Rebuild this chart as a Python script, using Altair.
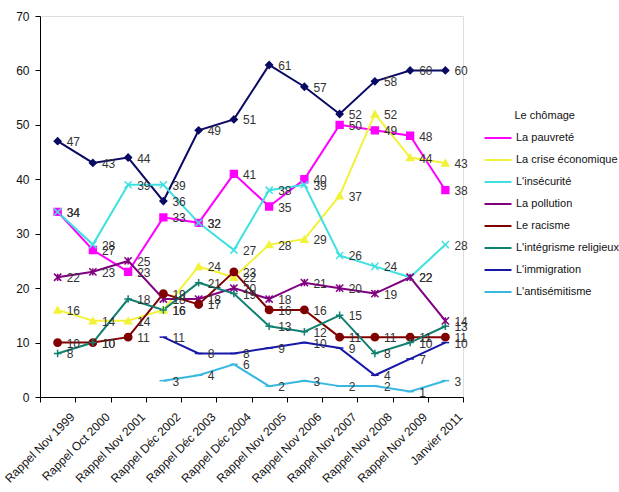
import altair as alt
import pandas as pd

categories = ["Rappel Nov 1999", "Rappel Oct 2000", "Rappel Nov 2001", "Rappel Déc 2002",
              "Rappel Déc 2003", "Rappel Déc 2004", "Rappel Nov 2005", "Rappel Nov 2006",
              "Rappel Nov 2007", "Rappel Nov 2008", "Rappel Nov 2009", "Janvier 2011"]

series_names = ["Le chômage", "La pauvreté", "La crise économique", "L'insécurité",
                "La pollution", "Le racisme", "L'intégrisme religieux", "L'immigration",
                "L'antisémitisme"]

chomage = [47, 43, 44, 36, 49, 51, 61, 57, 52, 58, 60, 60]
pauvrete = [34, 27, 23, 33, 32, 41, 35, 40, 50, 49, 48, 38]
crise = [16, 14, 14, 16, 24, 22, 28, 29, 37, 52, 44, 43]
insecurite = [34, 28, 39, 39, 32, 27, 38, 39, 26, 24, 22, 28]
pollution = [22, 23, 25, 18, 18, 20, 18, 21, 20, 19, 22, 14]
racisme = [10, 10, 11, 19, 17, 23, 16, 16, 11, 11, 11, 11]
integrisme = [8, 10, 18, 16, 21, 19, 13, 12, 15, 8, 10, 13]
immigration = [None, None, None, 11, 8, 8, 9, 10, 9, 4, 7, 10]
antisemitisme = [None, None, None, 3, 4, 6, 2, 3, 2, 2, 1, 3]

colors = ["#0A0A64", "#FF00FF", "#F2F23A", "#3EE0E0", "#800080", "#800000",
          "#118070", "#1818A8", "#38B8E0"]
shapes = ["diamond", "square", "triangle-up", "M-1,-1L1,1M-1,1L1,-1",
          "M-1,-1L1,1M-1,1L1,-1M0,-1L0,1", "circle", "M-1,0L1,0M0,-1L0,1",
          "stroke", "stroke"]
sizes = [45, 60, 55, 50, 50, 70, 55, 16, 16]

all_values = [chomage, pauvrete, crise, insecurite, pollution, racisme,
              integrisme, immigration, antisemitisme]
rows = []
for name, vals in zip(series_names, all_values):
    for cat, v in zip(categories, vals):
        if v is not None:
            rows.append({"cat": cat, "series": name, "value": v})
df = pd.DataFrame(rows)

FONT = "Liberation Sans"

x_enc = alt.X("cat:N", sort=categories,
              scale=alt.Scale(type="band", domain=categories, paddingInner=0, paddingOuter=0),
              axis=alt.Axis(title=None, tickBand="extent", labelAngle=315, labelAlign="right",
                            labelBaseline="top", labelFontSize=12, labelFont=FONT,
                            labelColor="#111", domainColor="black", tickColor="black",
                            tickSize=5, labelPadding=9, labelOffset=11, grid=False))
y_enc = alt.Y("value:Q", scale=alt.Scale(domain=[0, 70], nice=False),
              axis=alt.Axis(title=None, values=list(range(0, 71, 10)), labelFontSize=12,
                            labelFont=FONT, labelColor="#111", domainColor="black",
                            tickColor="black", tickSize=5, labelPadding=6, grid=False))

base = alt.Chart(df)

others = series_names[1:]
lines = base.transform_filter(alt.datum.series != "Le chômage").mark_line(strokeWidth=2).encode(
    x=x_enc, y=y_enc,
    color=alt.Color("series:N", sort=others,
                    scale=alt.Scale(domain=others, range=colors[1:]),
                    legend=alt.Legend(orient="none", legendX=450, legendY=94,
                                      title="\u200b" + "\u00a0" * 8 + "Le chômage",
                                      titleFont=FONT, titleFontSize=11, titleFontWeight="normal",
                                      titleColor="#111", titlePadding=9,
                                      labelFont=FONT, labelFontSize=11, labelColor="#111",
                                      symbolType="M-2,0L2,0", symbolSize=182,
                                      symbolStrokeWidth=2, rowPadding=9, labelOffset=10))
)

chom_line = base.transform_filter(alt.datum.series == "Le chômage").mark_line(
    strokeWidth=2, color=colors[0]).encode(x=x_enc, y=y_enc)

points = base.mark_point(filled=True, strokeWidth=1.5, opacity=1).encode(
    x=x_enc, y=y_enc,
    shape=alt.Shape("series:N", scale=alt.Scale(domain=series_names, range=shapes), legend=None),
    fill=alt.Fill("series:N", scale=alt.Scale(domain=series_names, range=colors), legend=None),
    stroke=alt.Stroke("series:N", scale=alt.Scale(domain=series_names, range=colors), legend=None),
    size=alt.Size("series:N", scale=alt.Scale(domain=series_names, range=sizes), legend=None),
)

labels = base.mark_text(align="left", baseline="middle", dx=9, dy=1, fontSize=12,
                        font=FONT, color="#333333").encode(
    x=x_enc, y=y_enc, text=alt.Text("value:Q"))

chart = alt.layer(chom_line, lines, points, labels).properties(
    width=423, height=381,
    autosize=alt.AutoSizeParams(type="none"),
    padding={"left": 40, "top": 16, "right": 156, "bottom": 95},
).configure_view(stroke=None).configure(background="white")

chart.save("out.html", embed_options={"renderer": "svg", "actions": False})
